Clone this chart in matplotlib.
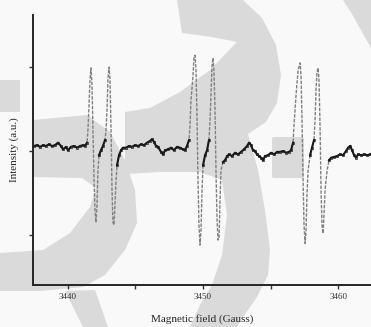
import numpy as np
import matplotlib.pyplot as plt
from matplotlib.patches import FancyBboxPatch

# EPR spectrum (field in Gauss, intensity in arbitrary units)
field = [
    3437.48, 3437.70, 3437.93, 3438.15, 3438.37, 3438.59, 3438.81, 3439.04, 3439.26, 3439.48,
    3439.63, 3439.85, 3440.00, 3440.22, 3440.44, 3440.67, 3440.89, 3441.11, 3441.26, 3441.41,
    3441.48, 3441.56, 3441.63, 3441.70, 3441.78, 3441.85, 3441.93, 3442.00, 3442.07, 3442.15,
    3442.22, 3442.30, 3442.44, 3442.59, 3442.74, 3442.81, 3442.89, 3442.96, 3443.04, 3443.11,
    3443.19, 3443.26, 3443.33, 3443.41, 3443.48, 3443.56, 3443.63, 3443.78, 3443.93, 3444.07,
    3444.30, 3444.52, 3444.74, 3444.96, 3445.19, 3445.41, 3445.63, 3445.85, 3446.07, 3446.22,
    3446.37, 3446.52, 3446.67, 3446.89, 3447.04, 3447.19, 3447.41, 3447.63, 3447.85, 3448.07,
    3448.30, 3448.52, 3448.67, 3448.81, 3448.96,
    3449.04, 3449.11, 3449.26, 3449.33, 3449.41, 3449.48, 3449.56, 3449.63, 3449.70, 3449.78,
    3449.85, 3449.93, 3450.00, 3450.15, 3450.30, 3450.44, 3450.52, 3450.59, 3450.67, 3450.74,
    3450.81, 3450.89, 3450.96, 3451.04, 3451.11, 3451.19, 3451.26, 3451.33, 3451.48, 3451.63,
    3451.78, 3451.93,
    3452.15, 3452.37, 3452.59, 3452.81, 3453.04, 3453.26, 3453.41, 3453.56, 3453.70, 3453.85,
    3454.00, 3454.15, 3454.30, 3454.44, 3454.59, 3454.81, 3455.04, 3455.26, 3455.48, 3455.70,
    3455.93, 3456.15, 3456.37, 3456.52, 3456.67,
    3456.74, 3456.89, 3457.04, 3457.19, 3457.26, 3457.33, 3457.41, 3457.48, 3457.56, 3457.63,
    3457.70, 3457.78, 3457.93, 3458.07, 3458.22, 3458.30, 3458.37, 3458.44, 3458.52, 3458.59,
    3458.67, 3458.74, 3458.81, 3458.89, 3458.96, 3459.04, 3459.19, 3459.33, 3459.48,
    3459.70, 3459.93, 3460.15, 3460.37, 3460.59, 3460.74, 3460.89, 3461.04, 3461.19, 3461.33,
    3461.48, 3461.70, 3461.93, 3462.15, 3462.37,
]
intensity = [
    0.06, 0.07, 0.05, 0.07, 0.06, 0.08, 0.06, 0.07, 0.10, 0.06,
    0.02, 0.05, 0.01, 0.05, 0.06, 0.04, 0.06, 0.07, 0.06, 0.10,
    0.25, 0.55, 0.85, 0.99, 0.79, 0.25, -0.35, -0.70, -0.85, -0.64,
    -0.23, -0.05, 0.01, 0.06, 0.13, 0.23, 0.49, 0.85, 1.00, 0.85,
    0.25, -0.46, -0.85, -0.88, -0.64, -0.35, -0.17, -0.05, 0.01, 0.04,
    0.04, 0.06, 0.05, 0.07, 0.06, 0.08, 0.07, 0.10, 0.12, 0.14,
    0.11, 0.06, 0.05, -0.01, -0.04, 0.01, 0.02, 0.04, 0.01, 0.05,
    0.04, 0.02, 0.01, 0.06, 0.13,
    0.31, 0.61, 0.90, 1.11, 1.14, 0.96, 0.37, -0.35, -0.88, -1.12,
    -0.94, -0.46, -0.17, -0.05, 0.01, 0.13, 0.37, 0.67, 1.02, 1.11,
    0.96, 0.49, -0.23, -0.82, -1.06, -1.04, -0.58, -0.23, -0.13, -0.11,
    -0.06, -0.04,
    -0.06, -0.02, -0.04, -0.01, 0.02, 0.06, 0.10, 0.07, 0.01, 0.00,
    -0.04, -0.06, -0.08, -0.11, -0.06, -0.05, -0.02, -0.04, -0.01, -0.01,
    0.00, -0.02, -0.01, 0.01, 0.10,
    0.31, 0.67, 0.96, 1.05, 0.90, 0.37, -0.35, -0.88, -1.10, -0.94,
    -0.52, -0.23, -0.05, 0.04, 0.13, 0.39, 0.73, 0.94, 0.99, 0.85,
    0.25, -0.46, -0.88, -0.98, -0.76, -0.46, -0.23, -0.11, -0.08,
    -0.07, -0.06, -0.04, -0.05, 0.00, 0.04, 0.06, 0.01, -0.05, -0.08,
    -0.04, -0.05, -0.04, -0.05, -0.04,
]
major_ticks = [3440, 3450, 3460]
minor_ticks = [3445, 3455]

x = np.array(field)
y = np.array(intensity)

plt.rcParams['font.family'] = ['Liberation Serif', 'DejaVu Serif']

W, H = 371, 327
fig = plt.figure(figsize=(W / 100, H / 100), dpi=100, facecolor='#f9f9f9')

# faint watermark shapes behind the plot (figure pixel coords, y down)
bg = fig.add_axes([0, 0, 1, 1], zorder=0)
bg.set_xlim(0, W)
bg.set_ylim(H, 0)
bg.axis('off')
wm = '#dadada'
shapes = [
    [(0, 80), (20, 80), (20, 112), (0, 112)],
    [(33, 120), (87, 115), (110, 132), (125, 160), (135, 190), (137, 223), (125, 250),
     (105, 275), (83, 287), (40, 291), (0, 291), (0, 253), (43, 250), (70, 233),
     (90, 207), (96, 188), (82, 178), (33, 177)],
    [(65, 291), (95, 290), (108, 327), (83, 327)],
    [(177, 0), (243, 0), (262, 18), (276, 45), (281, 75), (277, 103), (266, 122),
     (248, 134), (258, 170), (265, 210), (270, 250), (268, 275), (257, 297), (243, 317),
     (237, 327), (190, 327), (200, 305), (212, 285), (222, 255), (227, 215), (222, 180),
     (200, 172), (160, 172), (125, 174), (125, 112), (150, 108), (180, 92), (210, 70),
     (237, 42), (212, 37), (182, 33)],
    [(343, 0), (371, 0), (371, 48), (362, 32), (352, 14)],
]
for s in shapes:
    xs, ys = zip(*s)
    bg.fill(xs, ys, color=wm, lw=0)
bg.add_patch(FancyBboxPatch((274, 139), 28, 37, boxstyle='round,pad=2', color=wm, lw=0))

ax = fig.add_axes([33 / W, 1 - 285 / H, 1 - 33 / W, (285 - 15) / H], zorder=1)
ax.patch.set_alpha(0)

# steep parts look grey and broken, flat baseline is dark
steep = np.abs(y) > 0.2
ax.plot(x, y, color='0.5', lw=1.0, ls=(0, (2.5, 1)))
ax.plot(x, np.ma.masked_where(steep, y), color='0.1', lw=1.5,
        marker='s', ms=1.5, mfc='none', mec='0.1', mew=0.5)

ax.set_xlim(3437.41, 3462.44)
ax.set_ylim(-1.595, 1.62)
ax.set_xticks(major_ticks)
ax.set_xticks(minor_ticks, minor=True)
ax.set_xticklabels([str(t) for t in major_ticks])
ax.set_yticks([-1, 0, 1])
ax.set_yticklabels([])
ax.tick_params(axis='both', which='both', direction='out', length=3, width=1,
               colors='0.2', labelsize=6.5, pad=3)
for side in ['top', 'right']:
    ax.spines[side].set_visible(False)
for side in ['left', 'bottom']:
    ax.spines[side].set_linewidth(1.4)
    ax.spines[side].set_color('0.15')

ax.set_xlabel('Magnetic field (Gauss)', fontsize=8, color='0.15', labelpad=9)
ax.set_ylabel('Intensity (a.u.)', fontsize=8, color='0.15', labelpad=4)

fig.savefig('out.png', dpi=100, facecolor=fig.get_facecolor())
